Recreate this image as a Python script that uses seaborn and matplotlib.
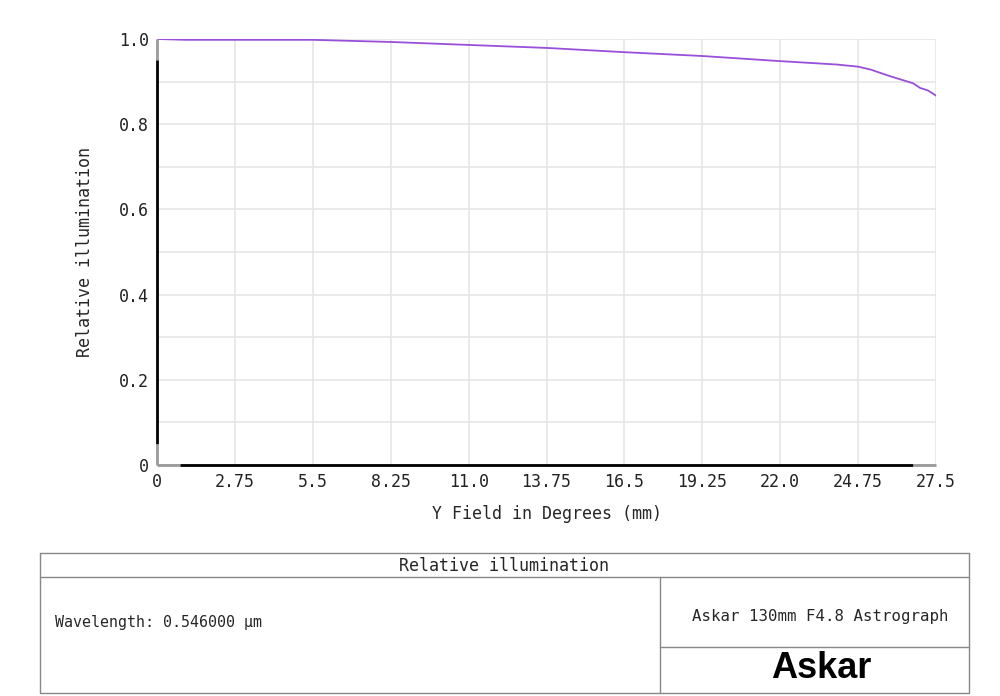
import numpy as np
import pandas as pd
import matplotlib
matplotlib.use("Agg")
import matplotlib.pyplot as plt
import seaborn as sns

# relative illumination curve
field = [0.0, 1.0, 2.75, 5.5, 8.25, 11.0, 13.75, 16.5, 19.25, 22.0, 24.0, 24.75,
         25.2, 25.77, 26.2, 26.69, 26.94, 27.22, 27.5]
illum = [1.0, 0.998, 0.998, 0.998, 0.993, 0.986, 0.979, 0.969, 0.960, 0.948, 0.940, 0.935,
         0.928, 0.915, 0.906, 0.896, 0.885, 0.879, 0.867]

xticks = [0, 2.75, 5.5, 8.25, 11.0, 13.75, 16.5, 19.25, 22.0, 24.75, 27.5]
xtick_labels = ["0", "2.75", "5.5", "8.25", "11.0", "13.75", "16.5", "19.25", "22.0", "24.75", "27.5"]
yticks = [0, 0.2, 0.4, 0.6, 0.8, 1.0]
ytick_labels = ["0", "0.2", "0.4", "0.6", "0.8", "1.0"]

sns.set_style("white")
plt.rcParams['font.family'] = ['DejaVu Sans Mono', 'DejaVu Sans']

df = pd.DataFrame({"field": field, "illum": illum})

fig = plt.figure(figsize=(10, 6.96), dpi=100)
ax = fig.add_axes([0.157, 0.332, 0.779, 0.612])

# grid every 2.75 in x and 0.1 in y
for gx in np.arange(0, 27.51, 2.75):
    ax.axvline(gx, color="#e6e6e6", lw=1.2, zorder=0)
for gy in np.arange(0, 1.01, 0.1):
    ax.axhline(gy, color="#e6e6e6", lw=1.2, zorder=0)

sns.lineplot(data=df, x="field", y="illum", color="#9a4fd8", lw=1.3, ax=ax)

ax.set_xlim(0, 27.5)
ax.set_ylim(0, 1.0)
ax.set_xticks(xticks)
ax.set_xticklabels(xtick_labels, fontsize=12)
ax.set_yticks(yticks)
ax.set_yticklabels(ytick_labels, fontsize=12)
ax.tick_params(length=0, pad=6, colors="#222222")
ax.set_xlabel("Y Field in Degrees (mm)", fontsize=12, labelpad=10)
ax.set_ylabel("Relative illumination", fontsize=12, labelpad=18)
for s in ["top", "right", "left", "bottom"]:
    ax.spines[s].set_visible(False)

# axis lines: black with grey ends
kw = dict(clip_on=False, lw=2, solid_capstyle="butt")
ax.plot([0, 0], [0.95, 1.0], color="#999999", **kw)
ax.plot([0, 0], [0.05, 0.95], color="black", **kw)
ax.plot([0, 0], [0, 0.05], color="#999999", **kw)
ax.plot([0, 0.8], [0, 0], color="#999999", **kw)
ax.plot([0.8, 26.7], [0, 0], color="black", **kw)
ax.plot([26.7, 27.5], [0, 0], color="#999999", **kw)

# info table below the chart
tab = fig.add_axes([0, 0, 1, 1], facecolor="none")
tab.set_xlim(0, 1000)
tab.set_ylim(696, 0)
tab.axis("off")
lc = "#888888"
tab.plot([40, 969, 969, 40, 40], [553, 553, 693, 693, 553], color=lc, lw=1)
tab.plot([40, 969], [577, 577], color=lc, lw=1)
tab.plot([660, 660], [577, 693], color=lc, lw=1)
tab.plot([660, 969], [647, 647], color=lc, lw=1)
tab.text(504, 566, "Relative illumination", ha="center", va="center", fontsize=12)
tab.text(55, 622, "Wavelength: 0.546000 µm", ha="left", va="center", fontsize=10.8)
tab.text(820, 616, "Askar 130mm F4.8 Astrograph", ha="center", va="center", fontsize=11.3)
tab.text(821, 669, "Askar", ha="center", va="center", fontsize=26, fontweight="bold",
         family="Liberation Sans", color="black")

fig.savefig("out.png", dpi=100)
